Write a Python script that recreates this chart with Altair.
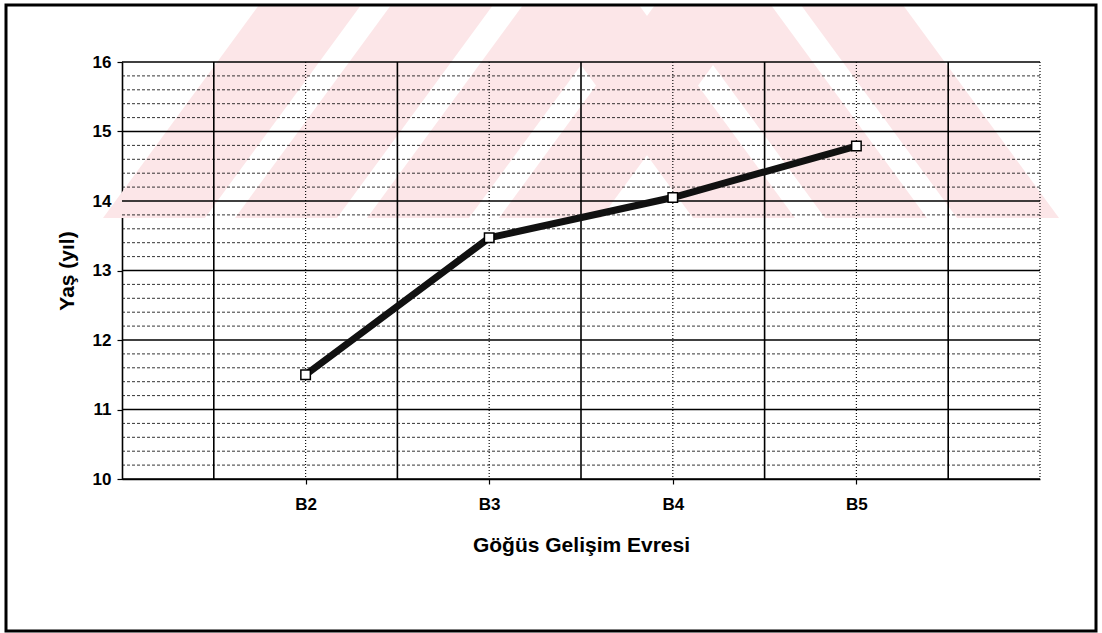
import altair as alt
import numpy as np
import pandas as pd

# Breast development stages (Tanner) and mean age at each stage
stages = ["B2", "B3", "B4", "B5"]
stage_pos = [1, 2, 3, 4]
ages = [11.5, 13.47, 14.05, 14.79]

y_major = [10, 11, 12, 13, 14, 15, 16]
x_dotted = [1, 2, 3, 4, 5]
x_solid = [0.5, 1.5, 2.5, 3.5, 4.5]

W, H = 918, 417
LEFT, TOP = 122, 62
FONT = "Liberation Sans"

# Faint background watermark: slanted stripes, given as page-pixel spans
# (left edge, right edge) along the lower and upper edges of each stripe.
wm_bottom_y, wm_top_y = 218, 5
wm_bottom_l = [103, 235, 367, 499, 693, 825, 957]
wm_bottom_r = [205, 337, 469, 601, 795, 927, 1059]
wm_shift = [156, 156, 156, 156, -156, -156, -156]

df = pd.DataFrame({"pos": stage_pos, "age": ages, "stage": stages})
minor = [round(v, 1) for v in np.arange(10.2, 16.0, 0.2) if abs(v - round(v)) > 1e-6]

wm_rows = []
for i, (l, r, s) in enumerate(zip(wm_bottom_l, wm_bottom_r, wm_shift)):
    wm_rows.append({"band": i, "py": wm_bottom_y - TOP, "x0": l - LEFT, "x1": r - LEFT})
    wm_rows.append({"band": i, "py": wm_top_y - TOP, "x0": l + s - LEFT, "x1": r + s - LEFT})
wm_df = pd.DataFrame(wm_rows)

xs = alt.Scale(domain=[0, 5], nice=False, zero=False)
ys = alt.Scale(domain=[10, 16], nice=False, zero=False)

label_expr = " : ".join(
    f"datum.value == {p} ? '{s}'" for p, s in zip(stage_pos, stages)
) + " : ''"

x_axis = alt.Axis(
    title="Göğüs Gelişim Evresi",
    values=stage_pos,
    labelExpr=label_expr,
    grid=False,
    tickSize=5,
    tickColor="#000",
    tickWidth=1.2,
    domainColor="#000",
    domainWidth=1.6,
    labelFont=FONT,
    labelFontSize=17,
    labelFontWeight="bold",
    labelColor="#000",
    labelPadding=12,
    titleFont=FONT,
    titleFontSize=21,
    titleFontWeight="bold",
    titleColor="#000",
    titleY=66,
    titleBaseline="middle",
)

y_axis = alt.Axis(
    title="Yaş (yıl)",
    values=y_major,
    grid=False,
    tickSize=5,
    tickColor="#000",
    tickWidth=1.2,
    domainColor="#000",
    domainWidth=1.6,
    labelFont=FONT,
    labelFontSize=17,
    labelFontWeight="bold",
    labelColor="#000",
    labelPadding=6,
    titleFont=FONT,
    titleFontSize=21,
    titleFontWeight="bold",
    titleColor="#000",
    titleX=-55,
    titleY=H / 2,
    titleAlign="center",
    titleBaseline="middle",
)

watermark = alt.Chart(wm_df).mark_area(
    orient="horizontal", color="#fce6e8", opacity=1, clip=False
).encode(
    y=alt.Y("py:Q", scale=None, axis=None),
    x=alt.X("x0:Q", scale=None, axis=None),
    x2="x1:Q",
    detail="band:N",
)

minor_rules = alt.Chart(pd.DataFrame({"y": minor})).mark_rule(
    stroke="#111", strokeWidth=1, strokeDash=[3, 2], opacity=0.85
).encode(y=alt.Y("y:Q", scale=ys, axis=y_axis))

major_rules = alt.Chart(pd.DataFrame({"y": y_major})).mark_rule(
    stroke="#000", strokeWidth=1.6
).encode(y=alt.Y("y:Q", scale=ys, axis=y_axis))

v_dotted = alt.Chart(pd.DataFrame({"x": x_dotted})).mark_rule(
    stroke="#111", strokeWidth=1.2, strokeDash=[1, 2]
).encode(x=alt.X("x:Q", scale=xs, axis=x_axis))

v_solid = alt.Chart(pd.DataFrame({"x": x_solid})).mark_rule(
    stroke="#000", strokeWidth=1.6
).encode(x=alt.X("x:Q", scale=xs, axis=x_axis))

base = alt.Chart(df).encode(
    x=alt.X("pos:Q", scale=xs, axis=x_axis),
    y=alt.Y("age:Q", scale=ys, axis=y_axis),
)

line = base.mark_line(color="#111", strokeWidth=7)
points = base.mark_point(
    shape="square", size=90, filled=True, fill="#fff", stroke="#000", strokeWidth=1.5, opacity=1
)

frame = alt.Chart(pd.DataFrame({"k": [0]})).mark_rect(
    fill=None, stroke="#000", strokeWidth=3, clip=False
).encode(
    x=alt.value(-116), x2=alt.value(974), y=alt.value(-57), y2=alt.value(569)
)

main = alt.layer(minor_rules, v_dotted, v_solid, major_rules, line, points, frame)

chart = alt.layer(watermark, main).resolve_scale(
    x="independent", y="independent"
).properties(
    width=W,
    height=H,
    autosize=alt.AutoSizeParams(type="none"),
    padding={"left": LEFT, "top": TOP, "right": 62, "bottom": 154},
    background="#ffffff",
).configure_view(stroke=None)

chart.save("out.html", embed_options={"renderer": "svg", "actions": False})
